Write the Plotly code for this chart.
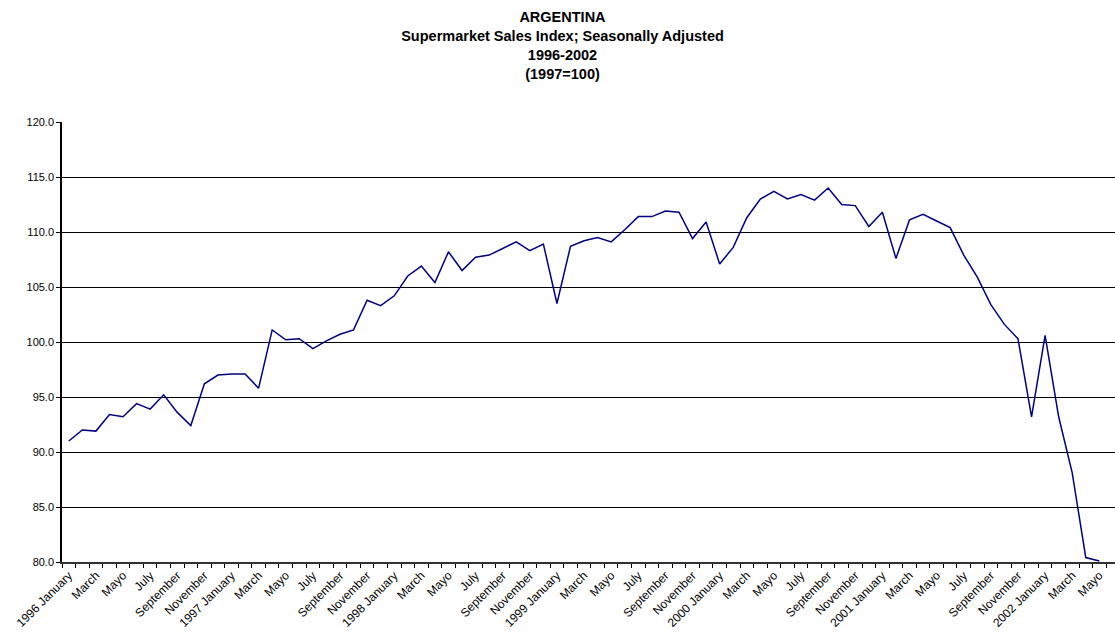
import plotly.graph_objects as go

# ---- data ----
years = ["1996", "1997", "1998", "1999", "2000", "2001", "2002"]
shown_months = ["January", "March", "Mayo", "July", "September", "November"]

sales_1996 = [91.0, 92.0, 91.9, 93.4, 93.2, 94.4, 93.9, 95.2, 93.6, 92.4, 96.2, 97.0]
sales_1997 = [97.1, 97.1, 95.8, 101.1, 100.2, 100.3, 99.4, 100.1, 100.7, 101.1, 103.8, 103.3]
sales_1998 = [104.2, 106.0, 106.9, 105.4, 108.2, 106.5, 107.7, 107.9, 108.5, 109.1, 108.3, 108.9]
sales_1999 = [103.5, 108.7, 109.2, 109.5, 109.1, 110.2, 111.4, 111.4, 111.9, 111.8, 109.4, 110.9]
sales_2000 = [107.1, 108.6, 111.3, 113.0, 113.7, 113.0, 113.4, 112.9, 114.0, 112.5, 112.4, 110.5]
sales_2001 = [111.8, 107.6, 111.1, 111.6, 111.0, 110.4, 107.9, 105.9, 103.4, 101.6, 100.3, 93.2]
sales_2002 = [100.6, 93.2, 88.1, 80.4, 80.1]

values = sales_1996 + sales_1997 + sales_1998 + sales_1999 + sales_2000 + sales_2001 + sales_2002
x_idx = list(range(len(values)))

# tick labels: every second month, year prefixed on January
tick_vals = []
tick_text = []
for i in x_idx:
    if i % 2 == 0:
        m = shown_months[(i % 12) // 2]
        if i % 12 == 0:
            m = years[i // 12] + " " + m
        tick_vals.append(i)
        tick_text.append(m)

FONT = "Liberation Sans, Arial, sans-serif"
W, H = 1115, 633
ML, MR, MT, MB = 62, 0, 122, 71
px_per_cat = 13.56
plot_w = W - ML - MR

fig = go.Figure()
fig.add_trace(go.Scatter(
    x=x_idx, y=values, mode="lines",
    line=dict(color="#000080", width=1.5),
    showlegend=False, hoverinfo="y",
))

fig.update_layout(
    width=W, height=H,
    margin=dict(l=ML, r=MR, t=MT, b=MB, pad=0),
    paper_bgcolor="white", plot_bgcolor="white",
    font=dict(family=FONT, size=11, color="black"),
    title=dict(
        text="<b>ARGENTINA<br>Supermarket Sales Index; Seasonally Adjusted<br>1996-2002<br>(1997=100)</b>",
        font=dict(family=FONT, size=14.5, color="black"),
        x=562.5 / W, xanchor="center", xref="container",
        y=1 - 22 / H, yanchor="top", yref="container",
    ),
    xaxis=dict(
        range=[-0.5, -0.5 + plot_w / px_per_cat],
        tickmode="array", tickvals=tick_vals, ticktext=tick_text,
        tickangle=-45, ticks="", showgrid=False, zeroline=False,
        showline=True, linecolor="#333333", linewidth=1.5,
        tickfont=dict(family=FONT, size=12, color="black"),
        minor=dict(tickmode="linear", tick0=-0.5, dtick=1, ticks="outside",
                   ticklen=4, tickcolor="black", tickwidth=1, showgrid=False),
        fixedrange=True,
    ),
    yaxis=dict(
        range=[80, 120], dtick=5, tick0=80, tickformat=".1f",
        showgrid=True, gridcolor="black", gridwidth=1,
        zeroline=False, showline=True, linecolor="black", linewidth=1.5,
        ticks="outside", ticklen=4, tickcolor="black",
        tickfont=dict(family=FONT, size=11, color="black"),
        fixedrange=True,
    ),
)

fig.write_html(
    "out.html",
    config={"displayModeBar": False},
    post_script="document.body.style.margin='0';document.body.style.overflow='hidden';",
)
